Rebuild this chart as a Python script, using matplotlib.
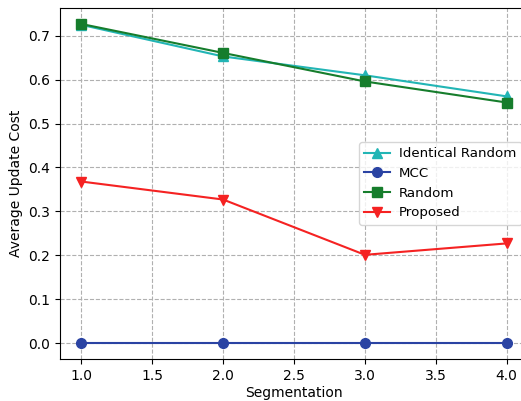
import numpy as np
import matplotlib.pyplot as plt

# segmentation values
seg = [1.0, 2.0, 3.0, 4.0]

identical_random = [0.725, 0.653, 0.610, 0.562]
mcc = [0.0, 0.0, 0.0, 0.0]
random_cost = [0.727, 0.661, 0.596, 0.548]
proposed = [0.368, 0.327, 0.201, 0.227]

fig = plt.figure(figsize=(5.21, 4.01), dpi=100)
# axes run a bit past the right edge, like the cropped original
ax = fig.add_axes([60/521, 1-359/401, (528-60)/521, (359-8)/401])

ax.plot(seg, identical_random, marker='^', markersize=7, color='#22b5b5', label='Identical Random')
ax.plot(seg, mcc, marker='o', markersize=7, color='#2a43a3', label='MCC')
ax.plot(seg, random_cost, marker='s', markersize=7, color='#167d2c', label='Random')
ax.plot(seg, proposed, marker='v', markersize=7, color='#f52222', label='Proposed')

ax.set_xlabel('Segmentation', labelpad=2)
ax.set_ylabel('Average Update Cost')
ax.grid(True, linestyle='--', color='#b0b0b0')

ax.legend(loc='upper left', bbox_to_anchor=(359/521, 1-142/401),
          bbox_transform=fig.transFigure, borderaxespad=0, fontsize=9.6,
          handlelength=1.9, handletextpad=0.7)

fig.savefig('out.png', dpi=100)
